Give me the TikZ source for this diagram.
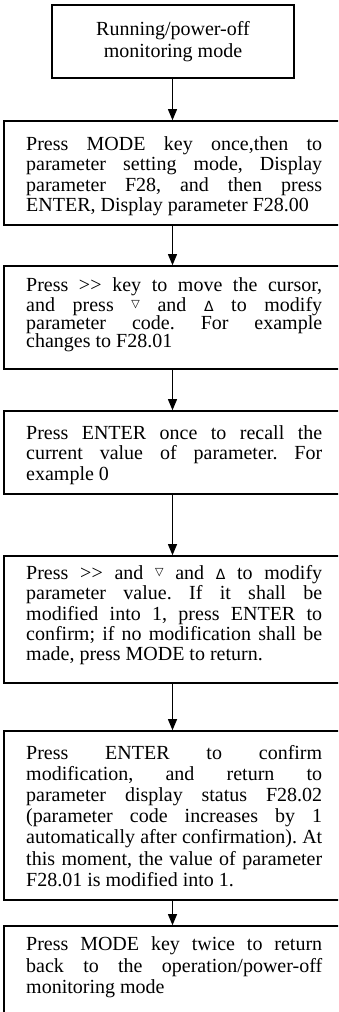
\documentclass[tikz,border=0pt]{standalone}
\usepackage{fontspec}
\setmainfont{Liberation Serif}
\newfontfamily\symfont{DejaVu Sans}
\usetikzlibrary{arrows.meta}
\frenchspacing
\newcommand{\tw}{296pt}
\newcommand{\jl}[1]{\makebox[\tw][s]{\spaceskip=0pt\xspaceskip=0pt #1}\\}
\newcommand{\tst}{\rule{0pt}{15pt}}
\newcommand{\grgr}{\textgreater\kern0.2pt\textgreater}
\newcommand{\dtri}{\raisebox{4pt}{\symfont\fontsize{11}{11}\selectfont ▽}}
\newcommand{\utri}{{\symfont\fontsize{14}{14}\selectfont Δ}}
\newcommand{\ns}{\frenchspacing\spaceskip=0pt\xspaceskip=0pt }
\begin{document}
\begin{tikzpicture}[x=1pt,y=1pt,
  box/.style={draw,line width=1.6pt,inner sep=0pt,rectangle,minimum width=337pt},
  txt/.style={anchor=north west,inner sep=0pt,text width=\tw,align=left},
  arr/.style={line width=0.9pt,-{Triangle[length=11pt,width=9pt]}}]
\useasboundingbox (0,0) rectangle (338,-1012);
\clip (0,0) rectangle (338,-1012);
% boxes
\node[box,minimum width=242pt,minimum height=73pt,align=center,
      font=\fontsize{20}{22.5}\selectfont] (b1) at (173,-41.5) {\ns Running/power-off\\monitoring mode};
\node[box,minimum height=104pt] (b2) at (172.5,-173) {};
\node[box,minimum height=103pt] (b3) at (172.5,-317.5) {};
\node[box,minimum height=83pt] (b4) at (172.5,-452.5) {};
\node[box,minimum height=127pt] (b5) at (172.5,-619.5) {};
\node[box,minimum height=169pt] (b6) at (172.5,-815.5) {};
\node[box,minimum height=104pt] (b7) at (172.5,-978) {};
% texts
\node[txt,font=\fontsize{20}{20.5}\selectfont] (t2) at (26,-135) {\ns
\jl{\tst Press MODE key once,then to}%
\jl{parameter setting mode, Display}%
\jl{parameter F28, and then press}%
ENTER, Display parameter F28.00};
\node[txt,font=\fontsize{20}{18.3}\selectfont] (t3) at (26,-276.7) {\ns
\jl{\tst Press \grgr\ key to move the cursor,}%
\jl{and press \dtri\ and \utri\ to modify}%
\jl{parameter code. For example}%
changes to F28.01};
\node[txt,font=\fontsize{20}{20.5}\selectfont] (t4) at (26,-424) {\ns
\jl{\tst Press ENTER once to recall the}%
\jl{current value of parameter. For}%
example 0};
\node[txt,font=\fontsize{20}{20.4}\selectfont] (t5) at (26,-564) {\ns
\jl{\tst Press \grgr\ and \dtri\ and \utri\ to modify}%
\jl{parameter value. If it shall be}%
\jl{modified into 1, press ENTER to}%
\jl{confirm; if no modification shall be}%
made, press MODE to return.};
\node[txt,font=\fontsize{20}{21.1}\selectfont] (t6) at (26,-744.3) {\ns
\jl{\tst Press ENTER to confirm}%
\jl{modification, and return to}%
\jl{parameter display status F28.02}%
\jl{(parameter code increases by 1}%
\jl{automatically after confirmation). At}%
\jl{this moment, the value of parameter}%
F28.01 is modified into 1.};
\node[txt,font=\fontsize{20}{21.3}\selectfont] (t7) at (26,-935.7) {\ns
\jl{\tst Press MODE key twice to return}%
\jl{back to the operation/power-off}%
monitoring mode};
% arrows
\draw[arr] (b1.south -| b2.north) -- (b2.north);
\draw[arr] (b2.south) -- (b3.north);
\draw[arr] (b3.south) -- (b4.north);
\draw[arr] (b4.south) -- (b5.north);
\draw[arr] (b5.south) -- (b6.north);
\draw[arr] (b6.south) -- (b7.north);
\end{tikzpicture}
\end{document}
